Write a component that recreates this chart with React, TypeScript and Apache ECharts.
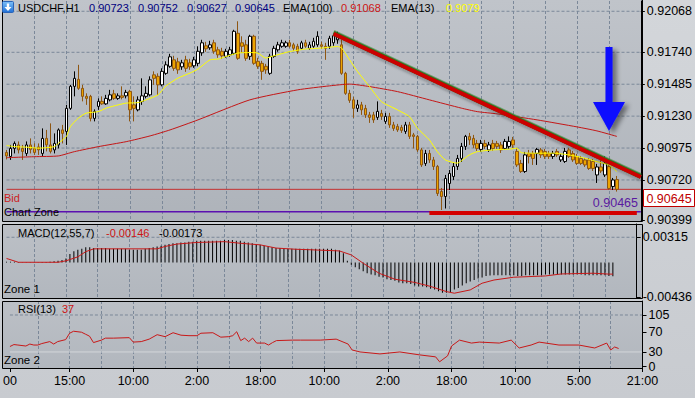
import React, { useEffect, useRef } from "react";
import * as echarts from "echarts";

// ---------- data ----------
const timeLabels = ["00", "15:00", "10:00", "2:00", "18:00", "10:00", "2:00", "18:00", "10:00", "5:00", "21:00"];
const timeLabelIndex = [0, 15, 31, 47, 63, 79, 95, 111, 127, 143, 159];
const categoryCount = 160;

// [open, close, low, high]
const candles: number[][] = [
  [0.90940, 0.90912, 0.90884, 0.90960], [0.90908, 0.90972, 0.90880, 0.91000], [0.90972, 0.91012, 0.90932, 0.91028],
  [0.91000, 0.90960, 0.90932, 0.91028], [0.90972, 0.90948, 0.90880, 0.91000], [0.90932, 0.91000, 0.90912, 0.91028],
  [0.91000, 0.90964, 0.90932, 0.91052], [0.90972, 0.90940, 0.90920, 0.91012], [0.90984, 0.90960, 0.90920, 0.91012],
  [0.90932, 0.91052, 0.90908, 0.91132], [0.91052, 0.91000, 0.90948, 0.91120], [0.91000, 0.90948, 0.90932, 0.91172],
  [0.90960, 0.91012, 0.90932, 0.91092], [0.91000, 0.91120, 0.90972, 0.91132], [0.91120, 0.91092, 0.91012, 0.91160],
  [0.91108, 0.91292, 0.91000, 0.91320], [0.91292, 0.91468, 0.91280, 0.91480], [0.91468, 0.91532, 0.91388, 0.91588],
  [0.91524, 0.91452, 0.91440, 0.91640], [0.91452, 0.91388, 0.91348, 0.91480], [0.91388, 0.91372, 0.91320, 0.91412],
  [0.91388, 0.91212, 0.91188, 0.91400], [0.91212, 0.91268, 0.91188, 0.91284], [0.91308, 0.91348, 0.91280, 0.91372],
  [0.91348, 0.91328, 0.91320, 0.91388], [0.91328, 0.91372, 0.91320, 0.91400], [0.91360, 0.91400, 0.91348, 0.91440],
  [0.91408, 0.91372, 0.91360, 0.91440], [0.91372, 0.91392, 0.91360, 0.91412], [0.91392, 0.91380, 0.91364, 0.91468],
  [0.91392, 0.91420, 0.91372, 0.91440], [0.91428, 0.91280, 0.91188, 0.91440], [0.91320, 0.91292, 0.91188, 0.91388],
  [0.91280, 0.91360, 0.91268, 0.91388], [0.91348, 0.91392, 0.91320, 0.91532], [0.91388, 0.91412, 0.91372, 0.91468],
  [0.91400, 0.91520, 0.91388, 0.91548], [0.91560, 0.91532, 0.91480, 0.91588], [0.91548, 0.91480, 0.91400, 0.91572],
  [0.91480, 0.91588, 0.91468, 0.91612], [0.91572, 0.91640, 0.91560, 0.91668], [0.91628, 0.91704, 0.91616, 0.91728],
  [0.91680, 0.91612, 0.91592, 0.91712], [0.91664, 0.91600, 0.91568, 0.91696], [0.91624, 0.91656, 0.91600, 0.91680],
  [0.91680, 0.91612, 0.91584, 0.91712], [0.91656, 0.91624, 0.91600, 0.91688], [0.91632, 0.91680, 0.91616, 0.91704],
  [0.91652, 0.91748, 0.91628, 0.91788], [0.91736, 0.91816, 0.91712, 0.91840], [0.91792, 0.91768, 0.91744, 0.91824],
  [0.91776, 0.91800, 0.91760, 0.91832], [0.91816, 0.91748, 0.91728, 0.91840], [0.91760, 0.91720, 0.91696, 0.91784],
  [0.91748, 0.91712, 0.91688, 0.91776], [0.91708, 0.91748, 0.91696, 0.91768], [0.91720, 0.91760, 0.91704, 0.91784],
  [0.91732, 0.91908, 0.91720, 0.91920], [0.91892, 0.91692, 0.91680, 0.91988], [0.91816, 0.91788, 0.91736, 0.91868],
  [0.91800, 0.91692, 0.91672, 0.91840], [0.91708, 0.91868, 0.91680, 0.91880], [0.91868, 0.91652, 0.91640, 0.91880],
  [0.91668, 0.91628, 0.91608, 0.91696], [0.91652, 0.91588, 0.91520, 0.91672], [0.91628, 0.91600, 0.91568, 0.91648],
  [0.91572, 0.91708, 0.91560, 0.91728], [0.91708, 0.91772, 0.91696, 0.91792], [0.91760, 0.91800, 0.91744, 0.91824],
  [0.91788, 0.91816, 0.91776, 0.91840], [0.91788, 0.91816, 0.91776, 0.91832], [0.91816, 0.91788, 0.91776, 0.91840],
  [0.91800, 0.91772, 0.91752, 0.91816], [0.91788, 0.91748, 0.91728, 0.91808], [0.91772, 0.91816, 0.91760, 0.91832],
  [0.91816, 0.91788, 0.91776, 0.91840], [0.91772, 0.91800, 0.91760, 0.91824], [0.91788, 0.91828, 0.91776, 0.91856],
  [0.91800, 0.91868, 0.91784, 0.91908], [0.91800, 0.91788, 0.91768, 0.91824], [0.91788, 0.91772, 0.91680, 0.91816],
  [0.91788, 0.91852, 0.91768, 0.91872], [0.91816, 0.91872, 0.91792, 0.91888], [0.91840, 0.91888, 0.91808, 0.91904],
  [0.91800, 0.91572, 0.91560, 0.91840], [0.91572, 0.91412, 0.91400, 0.91584], [0.91412, 0.91356, 0.91336, 0.91440],
  [0.91360, 0.91292, 0.91216, 0.91384], [0.91292, 0.91320, 0.91264, 0.91360], [0.91320, 0.91280, 0.91240, 0.91344],
  [0.91292, 0.91240, 0.91216, 0.91320], [0.91240, 0.91220, 0.91176, 0.91264], [0.91240, 0.91200, 0.91176, 0.91264],
  [0.91220, 0.91268, 0.91200, 0.91348], [0.91252, 0.91228, 0.91200, 0.91280], [0.91188, 0.91228, 0.91168, 0.91256],
  [0.91228, 0.91160, 0.91136, 0.91256], [0.91160, 0.91132, 0.91112, 0.91184], [0.91148, 0.91120, 0.91104, 0.91168],
  [0.91140, 0.91116, 0.91096, 0.91160], [0.91108, 0.91160, 0.91088, 0.91184], [0.91160, 0.91068, 0.91048, 0.91184],
  [0.91080, 0.91068, 0.90972, 0.91096], [0.91068, 0.90960, 0.90944, 0.91080], [0.90960, 0.90840, 0.90824, 0.90976],
  [0.90852, 0.90932, 0.90832, 0.90960], [0.90932, 0.90880, 0.90856, 0.90960], [0.90880, 0.90828, 0.90800, 0.90904],
  [0.90828, 0.90612, 0.90592, 0.90840], [0.90628, 0.90588, 0.90480, 0.90656], [0.90588, 0.90732, 0.90492, 0.90760],
  [0.90692, 0.90772, 0.90640, 0.90800], [0.90748, 0.90828, 0.90720, 0.90856], [0.90828, 0.90892, 0.90800, 0.90920],
  [0.90892, 0.90988, 0.90864, 0.91016], [0.90988, 0.91068, 0.90960, 0.91080], [0.91068, 0.91040, 0.91000, 0.91096],
  [0.91052, 0.91000, 0.90976, 0.91080], [0.91012, 0.90972, 0.90952, 0.91040], [0.90964, 0.91012, 0.90944, 0.91040],
  [0.91012, 0.90988, 0.90968, 0.91040], [0.90960, 0.91000, 0.90944, 0.91024], [0.91012, 0.90972, 0.90952, 0.91040],
  [0.91012, 0.90988, 0.90968, 0.91032], [0.91000, 0.90960, 0.90936, 0.91024], [0.90972, 0.91028, 0.90960, 0.91048],
  [0.90988, 0.91028, 0.90968, 0.91068], [0.91040, 0.91000, 0.90976, 0.91064], [0.90948, 0.90840, 0.90824, 0.90976],
  [0.90852, 0.90788, 0.90776, 0.90880], [0.90788, 0.90920, 0.90776, 0.90944], [0.90932, 0.90908, 0.90852, 0.90960],
  [0.90932, 0.90892, 0.90840, 0.90952], [0.90932, 0.90964, 0.90840, 0.90976], [0.90960, 0.90920, 0.90896, 0.90976],
  [0.90948, 0.90908, 0.90888, 0.90968], [0.90932, 0.90908, 0.90888, 0.90952], [0.90908, 0.90932, 0.90888, 0.90952],
  [0.90948, 0.90920, 0.90904, 0.90968], [0.90880, 0.90908, 0.90864, 0.90928], [0.90868, 0.90948, 0.90856, 0.90976],
  [0.90960, 0.90908, 0.90896, 0.90976], [0.90932, 0.90880, 0.90864, 0.90952], [0.90908, 0.90852, 0.90840, 0.90928],
  [0.90892, 0.90852, 0.90840, 0.90912], [0.90880, 0.90840, 0.90824, 0.90896], [0.90880, 0.90812, 0.90800, 0.90896],
  [0.90868, 0.90812, 0.90792, 0.90888], [0.90760, 0.90824, 0.90696, 0.90848], [0.90824, 0.90792, 0.90776, 0.90880],
  [0.90760, 0.90852, 0.90744, 0.90908], [0.90828, 0.90652, 0.90640, 0.90848], [0.90668, 0.90720, 0.90640, 0.90736],
  [0.90723, 0.90645, 0.90627, 0.90752],
];

// [candle index, value]
const ema13: number[][] = [
  [0, 0.90996], [2, 0.90986], [5, 0.90982], [8, 0.90974], [12, 0.90986], [13, 0.91014], [15, 0.91066], [16, 0.91146],
  [18, 0.91214], [20, 0.91254], [23, 0.91266], [25, 0.91294], [28, 0.91320], [30, 0.91334], [33, 0.91338], [35, 0.91360],
  [38, 0.91400], [40, 0.91472], [43, 0.91534], [46, 0.91574], [48, 0.91606], [51, 0.91680], [53, 0.91686], [55, 0.91706],
  [58, 0.91734], [61, 0.91738], [63, 0.91734], [65, 0.91694], [67, 0.91712], [71, 0.91746], [75, 0.91766], [79, 0.91774],
  [83, 0.91786], [84, 0.91774], [86, 0.91680], [88, 0.91586], [91, 0.91466], [94, 0.91346], [98, 0.91280], [101, 0.91226],
  [103, 0.91134], [106, 0.91040], [108, 0.90946], [110, 0.90880], [113, 0.90854], [114, 0.90872], [116, 0.90920],
  [118, 0.90946], [122, 0.90960], [126, 0.90966], [128, 0.90974], [129, 0.90938], [132, 0.90934], [137, 0.90934],
  [141, 0.90920], [145, 0.90894], [148, 0.90866], [151, 0.90840], [153, 0.90786],
];
const ema100: number[][] = [
  [0, 0.90898], [7, 0.90906], [13, 0.90912], [17, 0.90946], [23, 0.90986], [30, 0.91026], [36, 0.91072], [41, 0.91120],
  [48, 0.91200], [61, 0.91360], [73, 0.91440], [81, 0.91472], [86, 0.91486], [91, 0.91466], [98, 0.91426], [106, 0.91360],
  [114, 0.91294], [118, 0.91266], [123, 0.91248], [133, 0.91200], [143, 0.91144], [148, 0.91112], [153, 0.91068],
];

const macdHist: number[] = [
  0.0001, 0.0001, 0.0001,
  0.00005, 0.00003, 0.00002, 0.00002, 0.00003, 0.00002, 0.00004, 0.00006, 0.00008,
  0.00015, 0.0002, 0.0003,
  0.0005, 0.00105, 0.0014, 0.0016, 0.0017, 0.0019, 0.0019, 0.0018,
  0.0018, 0.0018, 0.0018, 0.0017, 0.0017, 0.0017, 0.0017, 0.0017, 0.0016,
  0.0016, 0.0016, 0.0016, 0.0017, 0.0018, 0.0019, 0.0020, 0.0021,
  0.0022, 0.0023, 0.0024, 0.0024, 0.0025, 0.0025, 0.0026, 0.0026,
  0.0027, 0.0027, 0.0027, 0.0027, 0.0027, 0.0027, 0.0027, 0.0028, 0.0028, 0.0028,
  0.0027, 0.0027, 0.0026, 0.0025, 0.0024, 0.0023, 0.0022, 0.0021, 0.0020, 0.0019, 0.0018, 0.0018, 0.0017, 0.0017, 0.0017, 0.0017,
  0.0017, 0.0017, 0.0017, 0.0017, 0.0017, 0.0017, 0.0017, 0.0017, 0.0017, 0.0016, 0.0015,
  0.00115, 0.0002,
  -0.0003, -0.0006, -0.00085, -0.0011, -0.00135, -0.0015, -0.0016, -0.0018, -0.0019, -0.0021, -0.0022, -0.0023,
  -0.0025, -0.0026, -0.0026, -0.0027, -0.0029, -0.0030, -0.0030, -0.0031, -0.0033, -0.0034, -0.0036, -0.0038,
  -0.0038, -0.0037, -0.0034, -0.0032, -0.0029, -0.0026, -0.0024, -0.0022, -0.0020, -0.0019, -0.0017, -0.00165, -0.0016,
  -0.0016, -0.0016, -0.0016, -0.0016, -0.0016, -0.0017, -0.0017, -0.0016, -0.0016, -0.0016, -0.0016, -0.0016,
  -0.0015, -0.0015, -0.0015, -0.0015, -0.0015, -0.0015, -0.0015, -0.0015, -0.0015, -0.0015,
  -0.0016, -0.0016, -0.0016, -0.0016, -0.0016, -0.0016, -0.0017, -0.00173,
];
const macdSignal: number[][] = [
  [0, 0.0005], [3, 0.00002], [13, 0.00002], [15, 0.0002], [18, 0.0007], [20, 0.00135], [22, 0.0017], [38, 0.0017],
  [40, 0.002], [43, 0.0023], [48, 0.0025], [55, 0.0026], [59, 0.0024], [64, 0.0022], [68, 0.0018], [73, 0.00165],
  [76, 0.0016], [84, 0.00144], [87, 0.00094], [90, -0.0001], [94, -0.00135], [98, -0.0021], [103, -0.0025],
  [107, -0.003], [111, -0.00365], [113, -0.00385], [117, -0.00344], [120, -0.0026], [123, -0.0022], [128, -0.00185],
  [136, -0.00169], [140, -0.00144], [148, -0.00135], [152, -0.00146], [153, -0.00146],
];
const rsi: number[][] = [
  [0, 41], [1, 45], [2, 44], [4, 42], [5, 46], [6, 44], [7, 44], [8, 47], [10, 51], [11, 46], [12, 51], [14, 55],
  [15, 68], [16, 72], [18, 70], [19, 66], [20, 62], [21, 49], [23, 54], [24, 58], [26, 58], [30, 59], [31, 50],
  [33, 51], [35, 56], [37, 65], [39, 61], [41, 69], [43, 64], [45, 63], [47, 63], [48, 68], [51, 69], [53, 60],
  [55, 61], [56, 63], [57, 71], [58, 53], [59, 58], [60, 51], [61, 58], [62, 48], [64, 48], [65, 44], [66, 49],
  [67, 53], [71, 54], [73, 54], [78, 54], [82, 56], [85, 46], [86, 34], [88, 30], [93, 26], [98, 30], [103, 24],
  [107, 20], [108, 10], [110, 22], [111, 42], [113, 54], [116, 48], [118, 50], [123, 48], [126, 54], [128, 38],
  [131, 44], [133, 50], [138, 44], [143, 44], [147, 38], [150, 48], [151, 34], [152, 40], [153, 37],
];

const priceTicks = [0.92068, 0.9174, 0.91485, 0.9123, 0.90975, 0.9072, 0.90399];
const priceGrid = [0.92068, 0.9174, 0.91485, 0.9123, 0.90975, 0.9072];
const macdTicks = [0.00315, -0.00436];
const rsiTicks = [105, 70, 30, 0];
const bidPrice = 0.90645;
const zonePrice = 0.90465;
const trendLine: number[][] = [[82, 0.91888], [159, 0.90744]];
const supportLine: number[][] = [[106, 0.90456], [158, 0.90456]];

const headerQuote = ["0.90723", "0.90752", "0.90627", "0.90645"];
const ema100Last = "0.91068";
const ema13Last = "0.9079";
const macdLast = ["-0.00146", "-0.00173"];
const rsiLast = "37";

// ---------- styles ----------
const FONT = '"Liberation Sans", Arial, sans-serif';
const NARROW = '"Liberation Sans Narrow", "Liberation Sans", Arial, sans-serif';
const GRID_COLOR = "#7b8899";
const DASH = [3, 2];
const FIRST = 0;
const LAST = categoryCount - 1;

const cats = Array.from({ length: categoryCount }, (_, i) => String(i));
const labelAt = new Map<number, string>(timeLabelIndex.map((idx, k) => [idx, timeLabels[k]]));

function txt(text: string, x: number, y: number, fill: string, size = 11, family = FONT, align = "left") {
  return {
    type: "text",
    z: 30,
    silent: true,
    style: {
      text, x, y, fill,
      font: `${size}px ${family}`,
      textAlign: align, align,
      textVerticalAlign: "middle", verticalAlign: "middle",
    },
  };
}

const panels = [
  { top: 1, height: 220, bgTop: "#c0c4ca", bgBot: "#aeb3ba", y0: 0, y1: 221 },
  { top: 224, height: 74, bgTop: "#bcc0c6", bgBot: "#b2b7be", y0: 224, y1: 298 },
  { top: 301, height: 67, bgTop: "#bcc0c6", bgBot: "#b2b7be", y0: 301, y1: 368 },
];

function xAxisFor(k: number) {
  const bottom = k === 2;
  return {
    type: "category",
    gridIndex: k,
    data: cats,
    boundaryGap: false,
    axisLine: { show: bottom, onZero: false, lineStyle: { color: "#000", width: 1 } },
    axisTick: {
      show: bottom,
      interval: (i: number) => labelAt.has(i),
      length: 4,
      lineStyle: { color: "#000" },
    },
    axisLabel: {
      show: bottom,
      interval: (i: number) => labelAt.has(i),
      formatter: (_v: string, i: number) => labelAt.get(i) ?? "",
      color: "#000",
      fontSize: 12.5,
      fontFamily: NARROW,
      margin: 6,
    },
    splitLine: {
      show: true,
      interval: (i: number) => i % 8 === 7,
      lineStyle: { color: GRID_COLOR, type: DASH, width: 1 },
    },
  };
}

function yAxisFor(k: number, min: number, max: number, ticks: number[], fmt: (v: number) => string) {
  return {
    type: "value",
    gridIndex: k,
    position: "right",
    min, max, scale: true,
    axisLine: { show: true, onZero: false, lineStyle: { color: "#000", width: 1 } },
    axisTick: { show: true, customValues: ticks, length: 4, lineStyle: { color: "#000" } },
    axisLabel: {
      show: true, customValues: ticks, formatter: fmt, color: "#000",
      fontSize: 12.5, fontFamily: NARROW, margin: 6,
    },
    splitLine: { show: false },
  };
}

// horizontal level drawn as a two-point line across the panel
function level(k: number, value: number, color: string, type: any, width: number, z = 1) {
  return {
    type: "line", xAxisIndex: k, yAxisIndex: k, symbol: "none", silent: true, z,
    data: [[FIRST, value], [LAST, value]],
    lineStyle: { color, type, width },
  };
}

function buildOption() {
  const graphic: any[] = [];
  panels.forEach((p, k) => {
    graphic.push({
      type: "rect", z: -10, silent: true,
      shape: { x: 2, y: p.y0, width: 640, height: p.y1 - p.y0 },
      style: { fill: new echarts.graphic.LinearGradient(0, 0, 0, 1, [{ offset: 0, color: p.bgTop }, { offset: 1, color: p.bgBot }]) },
    });
    graphic.push({
      type: "rect", z: 25, silent: true,
      shape: { x: 2.5, y: k === 0 ? -2 : p.y0 + 0.5, width: 640, height: k === 0 ? p.y1 + 2.5 : p.y1 - p.y0 },
      style: { fill: "none", stroke: "#000", lineWidth: 1 },
    });
  });

  // header
  graphic.push({
    type: "rect", z: 30, silent: true,
    shape: { x: 2.5, y: 1.5, width: 11, height: 11, r: 1 },
    style: {
      fill: new echarts.graphic.LinearGradient(0, 0, 0, 1, [{ offset: 0, color: "#7cc0f8" }, { offset: 1, color: "#1f6fd6" }]),
      stroke: "#2a64b8", lineWidth: 1,
    },
  });
  graphic.push({
    type: "polygon", z: 31, silent: true,
    shape: { points: [[6.8, 3.5], [9.2, 3.5], [9.2, 7], [11.5, 7], [8, 11], [4.5, 7], [6.8, 7]] },
    style: { fill: "#ffffff" },
  });
  graphic.push(txt("USDCHF,H1", 18, 7.5, "#000"));
  const qx = [89, 138, 187, 235];
  headerQuote.forEach((q, i) => graphic.push(txt(q, qx[i], 7.5, "#000080")));
  graphic.push(txt("EMA(100)", 283, 7.5, "#000"));
  graphic.push(txt(ema100Last, 341, 7.5, "#cc1414"));
  graphic.push(txt("EMA(13)", 391, 7.5, "#000"));
  graphic.push(txt(ema13Last, 446, 7.5, "#ffff00"));

  // main panel annotations
  graphic.push(txt("Bid", 4, 197.5, "#cc2222"));
  graphic.push(txt("Chart Zone", 4, 212, "#000"));
  graphic.push(txt(zonePrice.toFixed(5), 638, 203, "#5a1aa0", 12.5, NARROW, "right"));
  graphic.push({
    type: "rect", z: 30, silent: true,
    shape: { x: 643.5, y: 189.5, width: 51, height: 17 },
    style: { fill: "#ffffff", stroke: "#c00000", lineWidth: 1 },
  });
  graphic.push(txt(bidPrice.toFixed(5), 669, 198.5, "#c00000", 12.5, NARROW, "center"));

  // blue arrow
  graphic.push({
    type: "polygon", z: 28, silent: true,
    shape: { points: [[605.5, 47], [612.5, 47], [612.5, 102], [625, 102], [609, 131], [593, 102], [605.5, 102]] },
    style: { fill: "#0b0bff", shadowBlur: 5, shadowColor: "rgba(0,0,0,0.45)", shadowOffsetX: 4, shadowOffsetY: 3 },
  });

  // indicator headers
  graphic.push(txt("MACD(12,55,7)", 18, 232.5, "#000"));
  graphic.push(txt(macdLast[0], 106, 232.5, "#cc1414"));
  graphic.push(txt(macdLast[1], 159, 232.5, "#000"));
  graphic.push(txt("Zone 1", 4, 289, "#000", 11.5));
  graphic.push(txt("RSI(13)", 18, 309, "#000"));
  graphic.push(txt(rsiLast, 62, 309, "#cc1414"));
  graphic.push(txt("Zone 2", 4, 360, "#000", 11.5));

  const fmt5 = (v: number) => v.toFixed(5);

  return {
    animation: false,
    backgroundColor: "transparent",
    grid: panels.map((p) => ({ left: 6.5, right: 52.5, top: p.top, height: p.height, containLabel: false })),
    xAxis: [xAxisFor(0), xAxisFor(1), xAxisFor(2)],
    yAxis: [
      yAxisFor(0, 0.90392, 0.9215, priceTicks, fmt5),
      yAxisFor(1, -0.00445, 0.00481, macdTicks, fmt5),
      yAxisFor(2, -2.6, 133.4, rsiTicks, (v: number) => String(Math.round(v))),
    ],
    graphic,
    series: [
      ...priceGrid.map((v) => level(0, v, GRID_COLOR, DASH, 1)),
      level(0, bidPrice, "#c43030", "solid", 1, 1.5),
      level(0, zonePrice, "#5b10b0", "solid", 1.5, 1.5),
      {
        type: "candlestick", xAxisIndex: 0, yAxisIndex: 0, data: candles, barWidth: 3, clip: false, z: 2,
        itemStyle: { color: "#ffffff", color0: "#eca400", borderColor: "#000000", borderColor0: "#8e5612", borderWidth: 1 },
      },
      {
        type: "line", xAxisIndex: 0, yAxisIndex: 0, data: ema100, symbol: "none", smooth: 0.2, z: 3,
        lineStyle: { color: "#c41616", width: 1 },
      },
      {
        type: "line", xAxisIndex: 0, yAxisIndex: 0, data: ema13, symbol: "none", smooth: 0.2, z: 3,
        lineStyle: { color: "#ffff00", width: 1 },
      },
      {
        type: "line", xAxisIndex: 0, yAxisIndex: 0, data: supportLine, symbol: "none", z: 4,
        lineStyle: { color: "#d40000", width: 4, cap: "butt" },
      },
      {
        type: "line", xAxisIndex: 0, yAxisIndex: 0, data: trendLine, symbol: "none", z: 5,
        lineStyle: { color: "#2a7a1f", width: 4, cap: "butt", shadowColor: "#2a7a1f", shadowBlur: 0, shadowOffsetY: -1.5 },
      },
      {
        type: "line", xAxisIndex: 0, yAxisIndex: 0, data: trendLine, symbol: "none", z: 6,
        lineStyle: { color: "#cc0000", width: 4, cap: "butt", shadowColor: "rgba(30,30,30,0.35)", shadowBlur: 3, shadowOffsetY: 2 },
      },
      level(1, macdTicks[0], GRID_COLOR, DASH, 1),
      {
        type: "bar", xAxisIndex: 1, yAxisIndex: 1, data: macdHist, barWidth: 1, z: 2,
        itemStyle: { color: "#000000" },
      },
      {
        type: "line", xAxisIndex: 1, yAxisIndex: 1, data: macdSignal, symbol: "none", z: 3,
        lineStyle: { color: "#c81818", width: 1 },
      },
      level(2, rsiTicks[0], GRID_COLOR, DASH, 1),
      level(2, rsiTicks[2], "#d3d6da", "solid", 1),
      {
        type: "line", xAxisIndex: 2, yAxisIndex: 2, data: rsi, symbol: "none", z: 3,
        lineStyle: { color: "#c81818", width: 1 },
      },
    ],
  };
}

export default function App() {
  const ref = useRef<HTMLDivElement>(null);
  useEffect(() => {
    if (!ref.current) return;
    const chart = echarts.init(ref.current, null, { renderer: "svg", width: 695, height: 398 });
    chart.setOption(buildOption() as any);
    return () => chart.dispose();
  }, []);
  return (
    <div
      ref={ref}
      style={{
        position: "fixed", left: 0, top: 0, width: 695, height: 398,
        background: "linear-gradient(180deg, #d3d6da 0%, #c8cbd0 100%)",
      }}
    />
  );
}
